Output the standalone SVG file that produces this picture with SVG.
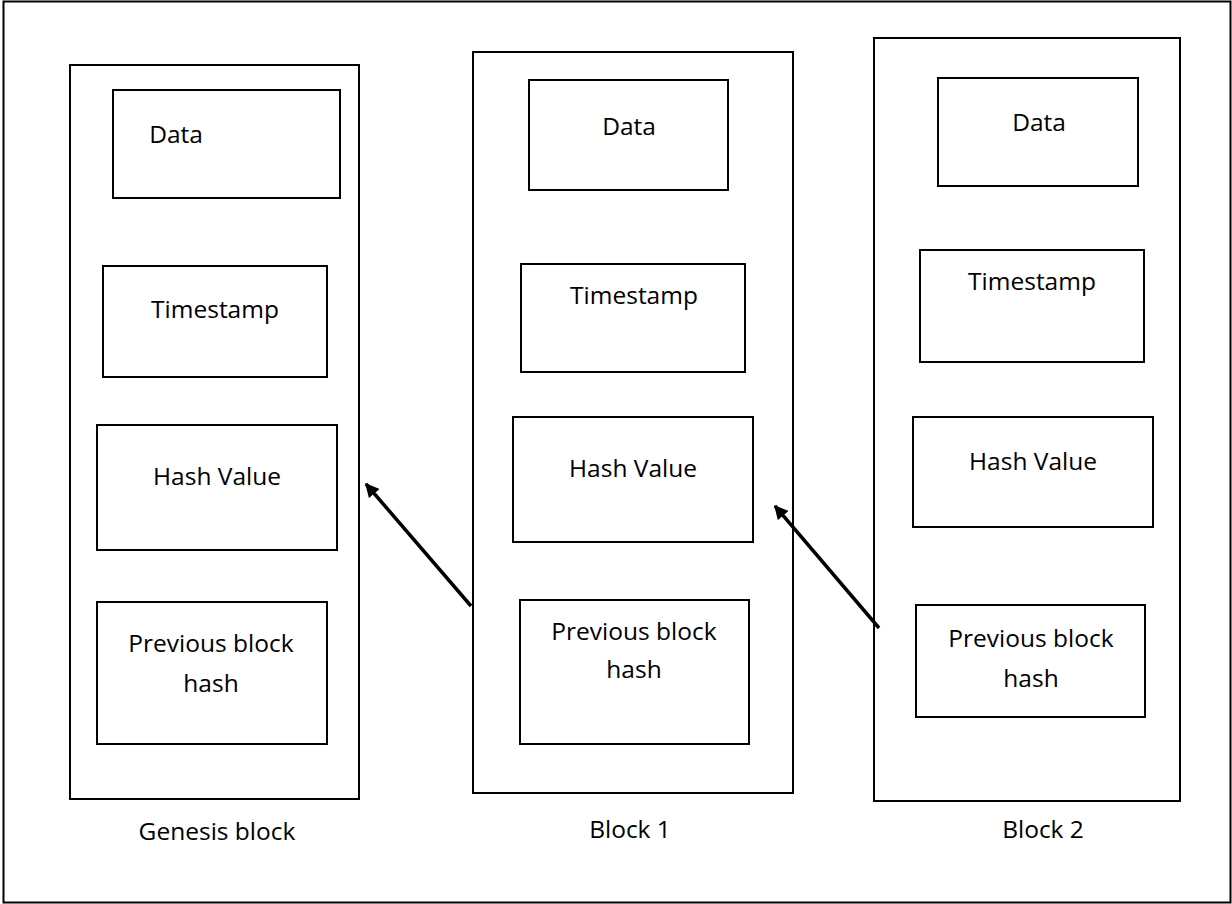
<svg xmlns="http://www.w3.org/2000/svg" width="1232" height="904" viewBox="0 0 1232 904">
<defs>
<style>
rect{fill:none;stroke:#000;stroke-width:2}
text{font-family:"Open Sans","Noto Sans","Liberation Sans",sans-serif;font-size:24.5px;fill:#000;text-anchor:middle}
.conn line{stroke:#000;stroke-width:3.5}
</style>
<marker id="ah" viewBox="0 0 10 10" refX="9" refY="5" markerWidth="4" markerHeight="4" markerUnits="strokeWidth" orient="auto">
<path d="M0,0 L10,5 L0,10 z" fill="#000"/>
</marker>
</defs>
<rect x="0" y="0" width="1232" height="904" style="fill:#fff;stroke:none"/>
<rect x="3.5" y="1.5" width="1227" height="901"/>
<g id="genesis">
<rect x="70" y="65" width="289" height="734"/>
<g id="g-data"><rect x="113" y="90" width="227" height="108"/><text x="176" y="143">Data</text></g>
<g id="g-ts"><rect x="103" y="266" width="224" height="111"/><text x="215" y="318">Timestamp</text></g>
<g id="g-hash"><rect x="97" y="425" width="240" height="125"/><text x="217" y="485">Hash Value</text></g>
<g id="g-prev"><rect x="97" y="602" width="230" height="142"/><text x="211" y="652">Previous block</text><text x="211" y="692">hash</text></g>
<text x="217" y="840">Genesis block</text>
</g>
<g id="block1">
<rect x="473" y="52" width="320" height="741"/>
<g id="b1-data"><rect x="529" y="80" width="199" height="110"/><text x="629" y="135">Data</text></g>
<g id="b1-ts"><rect x="521" y="264" width="224" height="108"/><text x="634" y="304">Timestamp</text></g>
<g id="b1-hash"><rect x="513" y="417" width="240" height="125"/><text x="633" y="477">Hash Value</text></g>
<g id="b1-prev"><rect x="520" y="600" width="229" height="144"/><text x="634" y="640">Previous block</text><text x="634" y="678">hash</text></g>
<text x="630" y="838">Block 1</text>
</g>
<g id="block2">
<rect x="874" y="38" width="306" height="763"/>
<g id="b2-data"><rect x="938" y="78" width="200" height="108"/><text x="1039" y="131">Data</text></g>
<g id="b2-ts"><rect x="920" y="250" width="224" height="112"/><text x="1032" y="290">Timestamp</text></g>
<g id="b2-hash"><rect x="913" y="417" width="240" height="110"/><text x="1033" y="470">Hash Value</text></g>
<g id="b2-prev"><rect x="916" y="605" width="229" height="112"/><text x="1031" y="647">Previous block</text><text x="1031" y="687">hash</text></g>
<text x="1043" y="838">Block 2</text>
</g>
<g id="connectors" class="conn">
<line x1="471" y1="606" x2="366" y2="484" marker-end="url(#ah)"/>
<line x1="879" y1="628" x2="775" y2="506" marker-end="url(#ah)"/>
</g>
</svg>
